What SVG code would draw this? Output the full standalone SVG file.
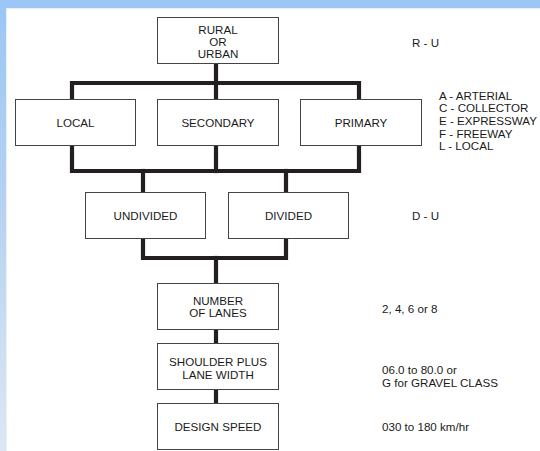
<svg xmlns="http://www.w3.org/2000/svg" width="540" height="451" viewBox="0 0 540 451">
<defs>
<linearGradient id="bg" x1="0" y1="0" x2="0" y2="1">
<stop offset="0" stop-color="#9ac6f6"/>
<stop offset="0.5" stop-color="#b9d4f1"/>
<stop offset="1" stop-color="#dde7f3"/>
</linearGradient>
<style>
.box{fill:#fff;stroke:#444;stroke-width:1}
.t{font-family:"Liberation Sans",Arial,sans-serif;font-size:11.6px;fill:#1a1a1a;text-anchor:middle;dominant-baseline:central}
.l{font-family:"Liberation Sans",Arial,sans-serif;font-size:11.6px;fill:#1a1a1a;dominant-baseline:central}
.c{fill:none;stroke:#231f20;stroke-width:4.2;stroke-linejoin:miter;stroke-linecap:square}
</style>
</defs>
<rect x="0" y="0" width="540" height="451" fill="url(#bg)"/>
<rect x="6" y="8" width="534" height="443" fill="#fff"/>
<line x1="6" y1="8.5" x2="540" y2="8.5" stroke="#e4f0fc" stroke-width="1"/>
<line x1="6.5" y1="8" x2="6.5" y2="451" stroke="#e4f0fc" stroke-width="1"/>

<g id="connectors">
<line class="c" x1="216" y1="64" x2="216" y2="97"/>
<polyline class="c" points="72,97 72,83 359,83 359,97"/>
<polyline class="c" points="72,147 72,171 359,171 359,147"/>
<line class="c" x1="216" y1="147" x2="216" y2="171"/>
<line class="c" x1="143" y1="171" x2="143" y2="190"/>
<line class="c" x1="286" y1="171" x2="286" y2="190"/>
<polyline class="c" points="143,240 143,258 286,258 286,240"/>
<line class="c" x1="216" y1="258" x2="216" y2="281"/>
<line class="c" x1="216" y1="331" x2="216" y2="341"/>
<line class="c" x1="216" y1="391" x2="216" y2="401"/>
</g>

<g id="rural">
<rect class="box" x="157.5" y="17.5" width="121" height="46"/>
<text class="t" x="218" y="29">RURAL</text>
<text class="t" x="218" y="41">OR</text>
<text class="t" x="218" y="53.5">URBAN</text>
</g>
<g id="local">
<rect class="box" x="15.5" y="99.5" width="120" height="46"/>
<text class="t" x="75.5" y="122">LOCAL</text>
</g>
<g id="secondary">
<rect class="box" x="157.5" y="99.5" width="121" height="46"/>
<text class="t" x="218" y="122">SECONDARY</text>
</g>
<g id="primary">
<rect class="box" x="300.5" y="99.5" width="121" height="46"/>
<text class="t" x="361" y="122">PRIMARY</text>
</g>
<g id="undivided">
<rect class="box" x="85.5" y="192.5" width="120" height="46"/>
<text class="t" x="145.5" y="215">UNDIVIDED</text>
</g>
<g id="divided">
<rect class="box" x="228.5" y="192.5" width="120" height="46"/>
<text class="t" x="288.5" y="215">DIVIDED</text>
</g>
<g id="lanes">
<rect class="box" x="157.5" y="283.5" width="121" height="46"/>
<text class="t" x="218" y="300">NUMBER</text>
<text class="t" x="218" y="312.5">OF LANES</text>
</g>
<g id="shoulder">
<rect class="box" x="157.5" y="343.5" width="121" height="46"/>
<text class="t" x="218" y="361">SHOULDER PLUS</text>
<text class="t" x="218" y="374">LANE WIDTH</text>
</g>
<g id="speed">
<rect class="box" x="157.5" y="403.5" width="121" height="46"/>
<text class="t" x="218" y="426">DESIGN SPEED</text>
</g>

<g id="legend">
<text class="l" x="412" y="42">R - U</text>
<text class="l" x="439" y="95">A - ARTERIAL</text>
<text class="l" x="439" y="107.7">C - COLLECTOR</text>
<text class="l" x="439" y="120.4">E - EXPRESSWAY</text>
<text class="l" x="439" y="133.1">F - FREEWAY</text>
<text class="l" x="439" y="145.8">L - LOCAL</text>
<text class="l" x="412" y="215">D - U</text>
<text class="l" x="382" y="308">2, 4, 6 or 8</text>
<text class="l" x="382" y="369">06.0 to 80.0 or</text>
<text class="l" x="382" y="382">G for GRAVEL CLASS</text>
<text class="l" x="382" y="426">030 to 180 km/hr</text>
</g>
</svg>
